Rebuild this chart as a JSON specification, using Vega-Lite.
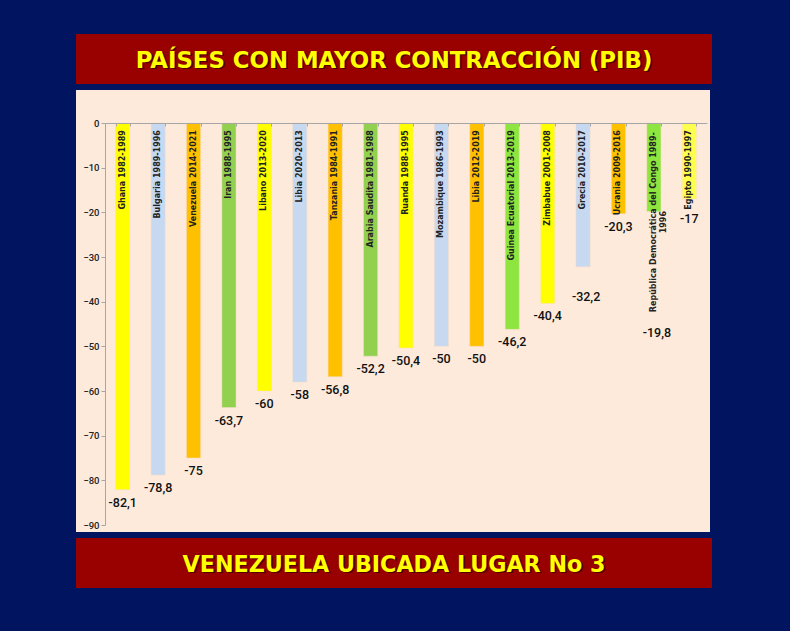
{
  "$schema": "https://vega.github.io/schema/vega-lite/v6.json",
  "background": "#00145f",
  "padding": {"left": 76, "top": 34, "right": 78, "bottom": 43},
  "spacing": 6,
  "config": {"view": {"stroke": null}, "concat": {"spacing": 6}},
  "datasets": {
    "paises": [
      {"pais": "Ghana 1982-1989", "valor": -82.1, "etiqueta": "-82,1", "grupo": "a"},
      {"pais": "Bulgaria 1989-1996", "valor": -78.8, "etiqueta": "-78,8", "grupo": "b"},
      {"pais": "Venezuela 2014-2021", "valor": -75, "etiqueta": "-75", "grupo": "c"},
      {"pais": "Iran 1988-1995", "valor": -63.7, "etiqueta": "-63,7", "grupo": "d"},
      {"pais": "Libano 2013-2020", "valor": -60, "etiqueta": "-60", "grupo": "a"},
      {"pais": "Libia 2020-2013", "valor": -58, "etiqueta": "-58", "grupo": "b"},
      {"pais": "Tanzania 1984-1991", "valor": -56.8, "etiqueta": "-56,8", "grupo": "c"},
      {"pais": "Arabia Saudita 1981-1988", "valor": -52.2, "etiqueta": "-52,2", "grupo": "d"},
      {"pais": "Ruanda 1988-1995", "valor": -50.4, "etiqueta": "-50,4", "grupo": "a"},
      {"pais": "Mozambique 1986-1993", "valor": -50, "etiqueta": "-50", "grupo": "b"},
      {"pais": "Libia 2012-2019", "valor": -50, "etiqueta": "-50", "grupo": "c"},
      {"pais": "Guinea Ecuatorial 2013-2019", "valor": -46.2, "etiqueta": "-46,2", "grupo": "e"},
      {"pais": "Zimbabue 2001-2008", "valor": -40.4, "etiqueta": "-40,4", "grupo": "a"},
      {"pais": "Grecia 2010-2017", "valor": -32.2, "etiqueta": "-32,2", "grupo": "b"},
      {"pais": "Ucrania 2009-2016", "valor": -20.3, "etiqueta": "-20,3", "grupo": "c"},
      {"pais": "República Democrática del Congo 1989-\n1996", "valor": -19.8, "etiqueta": "-19,8", "grupo": "e"},
      {"pais": "Egipto 1990-1997", "valor": -17, "etiqueta": "-17", "grupo": "f"}
    ]
  },
  "vconcat": [
    {
      "width": 636,
      "height": 50,
      "view": {"fill": "#990000"},
      "data": {"values": [{"titulo": "PAÍSES CON MAYOR CONTRACCIÓN (PIB)"}]},
      "layer": [
        {
          "mark": {"type": "text", "font": "DejaVu Sans", "fontWeight": "bold", "fontSize": 22.8, "color": "#4d0000", "dx": 1.5, "dy": 3},
          "encoding": {"text": {"field": "titulo"}}
        },
        {
          "mark": {"type": "text", "font": "DejaVu Sans", "fontWeight": "bold", "fontSize": 22.8, "color": "#ffff00", "dy": 1.5},
          "encoding": {"text": {"field": "titulo"}}
        }
      ]
    },
    {
      "width": 634,
      "height": 442,
      "view": {"fill": "#fdeadb"},
      "data": {"name": "paises"},
      "encoding": {
        "x": {
          "field": "pais",
          "type": "nominal",
          "sort": null,
          "title": null,
          "scale": {"range": [29, 631], "paddingInner": 0.6, "paddingOuter": 0.3},
          "axis": {
            "orient": "bottom",
            "offset": -409,
            "labels": false,
            "tickBand": "extent",
            "tickSize": 3,
            "domainColor": "#a6a6a6",
            "tickColor": "#a6a6a6",
            "zindex": 1
          }
        }
      },
      "layer": [
        {
          "mark": {"type": "bar", "stroke": "#f8dcc6", "strokeWidth": 0.5},
          "encoding": {
            "y": {
              "field": "valor",
              "type": "quantitative",
              "title": null,
              "scale": {"domain": [-90, 0], "range": [435, 33], "nice": false},
              "axis": {
                "orient": "left",
                "offset": -29,
                "values": [0, -10, -20, -30, -40, -50, -60, -70, -80, -90],
                "grid": false,
                "tickSize": 4,
                "labelFont": "Roboto",
                "labelFontWeight": 500,
                "labelFontSize": 9.5,
                "labelColor": "#222222",
                "domainColor": "#a6a6a6",
                "tickColor": "#a6a6a6"
              }
            },
            "y2": {"datum": 0},
            "color": {
              "field": "grupo",
              "type": "nominal",
              "legend": null,
              "scale": {
                "domain": ["a", "b", "c", "d", "e", "f"],
                "range": ["#ffff00", "#c6d9f1", "#ffc000", "#92d050", "#8ee53f", "#ffff4d"]
              }
            }
          }
        },
        {
          "transform": [{"filter": "datum.valor != -19.8"}],
          "mark": {"type": "text", "font": "DejaVu Sans", "fontSize": 8, "fontWeight": "bold", "angle": 270, "align": "right", "baseline": "middle", "color": "#222222"},
          "encoding": {"text": {"field": "pais"}, "y": {"datum": -1.6}}
        },
        {
          "transform": [{"filter": "datum.valor == -19.8"}],
          "mark": {"type": "text", "font": "DejaVu Sans", "fontSize": 8, "fontWeight": "bold", "angle": 270, "align": "center", "baseline": "middle", "color": "#222222", "lineBreak": "\n"},
          "encoding": {"text": {"field": "pais"}, "y": {"datum": -22.2}}
        },
        {
          "transform": [{"filter": "datum.valor != -19.8 && datum.valor != -32.2 && datum.valor != -17"}],
          "mark": {"type": "text", "font": "Roboto", "fontSize": 12.5, "fontWeight": 500, "dy": 13, "color": "#111111"},
          "encoding": {"text": {"field": "etiqueta"}, "y": {"field": "valor", "type": "quantitative"}}
        },
        {
          "transform": [{"filter": "datum.valor == -32.2"}],
          "mark": {"type": "text", "font": "Roboto", "fontSize": 12.5, "fontWeight": 500, "dx": 3, "color": "#111111"},
          "encoding": {"text": {"field": "etiqueta"}, "y": {"datum": -39}}
        },
        {
          "transform": [{"filter": "datum.valor == -19.8"}],
          "mark": {"type": "text", "font": "Roboto", "fontSize": 12.5, "fontWeight": 500, "dx": 3, "color": "#111111"},
          "encoding": {"text": {"field": "etiqueta"}, "y": {"datum": -47}}
        },
        {
          "transform": [{"filter": "datum.valor == -17"}],
          "mark": {"type": "text", "font": "Roboto", "fontSize": 12.5, "fontWeight": 500, "color": "#111111"},
          "encoding": {"text": {"field": "etiqueta"}, "y": {"datum": -21.5}}
        }
      ]
    },
    {
      "width": 636,
      "height": 50,
      "view": {"fill": "#990000"},
      "data": {"values": [{"titulo": "VENEZUELA UBICADA LUGAR No 3"}]},
      "layer": [
        {
          "mark": {"type": "text", "font": "DejaVu Sans", "fontWeight": "bold", "fontSize": 22.2, "color": "#4d0000", "dx": 1.5, "dy": 3},
          "encoding": {"text": {"field": "titulo"}}
        },
        {
          "mark": {"type": "text", "font": "DejaVu Sans", "fontWeight": "bold", "fontSize": 22.2, "color": "#ffff00", "dy": 1.5},
          "encoding": {"text": {"field": "titulo"}}
        }
      ]
    }
  ]
}
